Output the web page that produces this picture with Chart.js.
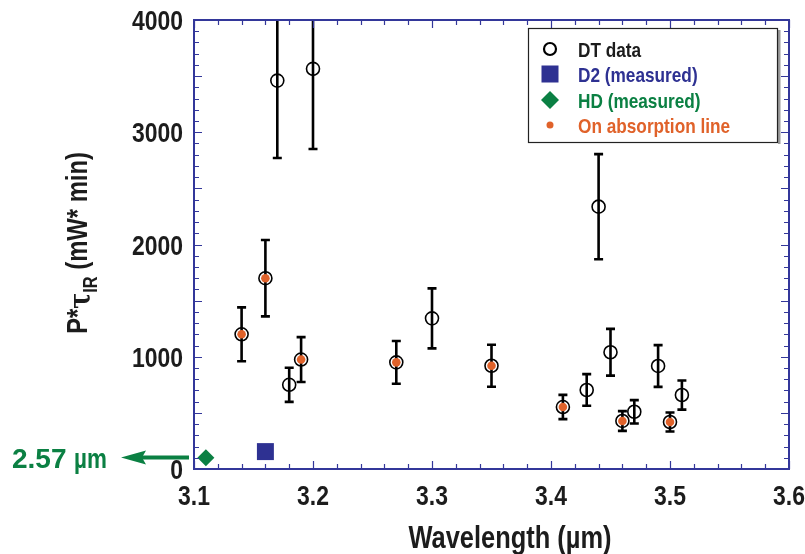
<!DOCTYPE html>
<html>
<head>
<meta charset="utf-8">
<script src="https://cdn.jsdelivr.net/npm/chart.js@4/dist/chart.umd.min.js"></script>
<style>
html,body{margin:0;padding:0;background:#fff;}
#wrap{width:805px;height:554px;position:relative;}
</style>
</head>
<body>
<div id="wrap"><canvas id="c" width="805" height="554"></canvas></div>
<script>
// ---- data ----
const dtWavelength = [3.14, 3.16, 3.17, 3.18, 3.19, 3.20, 3.27, 3.30, 3.35, 3.41, 3.43, 3.44, 3.45, 3.46, 3.47, 3.49, 3.50, 3.51];
const dtValue      = [1200, 1700, 3460, 750, 975, 3565, 950, 1342, 920, 552, 704, 2337, 1040, 428, 510, 918, 419, 659];
const dtError      = [240, 340, 690, 152, 200, 714, 190, 267, 187, 108, 141, 468, 208, 88, 104, 186, 85, 130];
const onAbsorptionLine = [1, 1, 0, 0, 1, 0, 1, 0, 1, 1, 0, 0, 0, 1, 0, 0, 1, 0];
const d2Wavelength = [3.16];
const d2Value      = [155];
const hdWavelength = [3.11];
const hdValue      = [100];
const hdNoteNumber = '2.57';
const hdNoteUnit = '\u00b5m';
const xTicks = [3.1, 3.2, 3.3, 3.4, 3.5, 3.6];
const yTicks = [0, 1000, 2000, 3000, 4000];
const seriesLabels = ['DT data', 'D2 (measured)', 'HD (measured)', 'On absorption line'];

const FONT = '"Liberation Sans", Arial, sans-serif';
const NARROW = 0.82;
const AXIS_BLUE = '#33379a';
const BLUE = '#2e3192';
const GREEN = '#0b8043';
const ORANGE = '#e0622a';
const INK = '#1c1c1c';

const dtPoints = dtWavelength.map((x, i) => ({x, y: dtValue[i]}));
const absPoints = dtWavelength.map((x, i) => ({x, y: dtValue[i]})).filter((p, i) => onAbsorptionLine[i]);
const d2Points = d2Wavelength.map((x, i) => ({x, y: d2Value[i]}));
const hdPoints = hdWavelength.map((x, i) => ({x, y: hdValue[i]}));

const legendStyles = [
  {type: 'circle', color: '#000'},
  {type: 'square', color: BLUE},
  {type: 'diamond', color: GREEN},
  {type: 'dot', color: ORANGE}
];

function narrowText(ctx, text, x, y, px, color, align, baseline, sx) {
  ctx.save();
  ctx.font = 'bold ' + px + 'px ' + FONT;
  ctx.fillStyle = color;
  ctx.textAlign = align;
  ctx.textBaseline = baseline;
  ctx.translate(x, y);
  ctx.scale(sx || NARROW, 1);
  ctx.fillText(text, 0, 0);
  ctx.restore();
}

const errorBarPlugin = {
  id: 'errorBars',
  beforeDatasetsDraw(chart) {
    const {ctx, chartArea, scales: {x, y}} = chart;
    ctx.save();
    ctx.beginPath();
    ctx.rect(chartArea.left, chartArea.top - 1, chartArea.right - chartArea.left, chartArea.bottom - chartArea.top + 1);
    ctx.clip();
    ctx.strokeStyle = '#000';
    ctx.lineWidth = 2.6;
    dtWavelength.forEach((w, i) => {
      const px = x.getPixelForValue(w);
      const top = y.getPixelForValue(dtValue[i] + dtError[i]);
      const bot = y.getPixelForValue(dtValue[i] - dtError[i]);
      ctx.beginPath();
      ctx.moveTo(px, top); ctx.lineTo(px, bot);
      ctx.moveTo(px - 4.5, top); ctx.lineTo(px + 4.5, top);
      ctx.moveTo(px - 4.5, bot); ctx.lineTo(px + 4.5, bot);
      ctx.stroke();
    });
    ctx.restore();
  }
};

const framePlugin = {
  id: 'frame',
  afterDatasetsDraw(chart) {
    const {ctx, chartArea: a, scales: {x, y}} = chart;
    ctx.save();
    ctx.strokeStyle = AXIS_BLUE;
    ctx.lineWidth = 1.2;
    for (let k = 0; k <= 25; k++) {
      const v = 3.1 + k * 0.02;
      const px = Math.round(x.getPixelForValue(v)) + 0.5;
      const len = (k % 5 === 0) ? 8 : 5;
      ctx.beginPath();
      ctx.moveTo(px, a.bottom); ctx.lineTo(px, a.bottom - len);
      ctx.moveTo(px, a.top); ctx.lineTo(px, a.top + len);
      ctx.stroke();
    }
    for (let k = 0; k <= 40; k++) {
      const v = k * 100;
      const py = Math.round(y.getPixelForValue(v)) + 0.5;
      const len = (k % 5 === 0) ? 8 : 5;
      ctx.beginPath();
      ctx.moveTo(a.left, py); ctx.lineTo(a.left + len, py);
      ctx.moveTo(a.right, py); ctx.lineTo(a.right - len, py);
      ctx.stroke();
    }
    ctx.lineWidth = 2;
    ctx.strokeRect(a.left, a.top, a.right - a.left, a.bottom - a.top);
    ctx.restore();
  },
  afterDraw(chart) {
    const {ctx, chartArea: a, scales: {x, y}} = chart;

    // tick labels (from the scales' ticks)
    x.ticks.forEach(t => {
      narrowText(ctx, Number(t.value).toFixed(1), x.getPixelForValue(t.value), a.bottom + 36, 28, INK, 'center', 'alphabetic');
    });
    y.ticks.forEach(t => {
      narrowText(ctx, String(t.value), a.left - 11, y.getPixelForValue(t.value) + 10, 28, INK, 'right', 'alphabetic');
    });

    ctx.save();
    // legend box
    const L = 528, T = 28, R = 777, B = 142;
    ctx.fillStyle = '#fff';
    ctx.fillRect(L, T, R - L, B - T);
    ctx.fillStyle = '#9a9a9a';
    ctx.fillRect(R + 1, T + 2, 2.5, B - T);
    ctx.strokeStyle = '#222';
    ctx.lineWidth = 1.2;
    ctx.strokeRect(L + 0.5, T + 0.5, R - L, B - T);
    const rowY = [49, 74, 100, 125];
    const textColors = [INK, BLUE, GREEN, ORANGE];
    chart.data.datasets.forEach((ds, i) => {
      const st = legendStyles[i];
      const cy = rowY[i], cx = 550;
      ctx.beginPath();
      if (st.type === 'circle') {
        ctx.arc(cx, cy, 6, 0, Math.PI * 2);
        ctx.strokeStyle = '#000'; ctx.lineWidth = 2.2; ctx.stroke();
      } else if (st.type === 'square') {
        ctx.fillStyle = st.color; ctx.fillRect(cx - 8.5, cy - 8.5, 17, 17);
      } else if (st.type === 'diamond') {
        ctx.moveTo(cx - 9, cy); ctx.lineTo(cx, cy - 9); ctx.lineTo(cx + 9, cy); ctx.lineTo(cx, cy + 9); ctx.closePath();
        ctx.fillStyle = st.color; ctx.fill();
      } else {
        ctx.arc(cx, cy, 3.5, 0, Math.PI * 2);
        ctx.fillStyle = st.color; ctx.fill();
      }
      narrowText(ctx, ds.label, 578, cy + 7.5, 21, textColors[i], 'left', 'alphabetic');
    });

    // HD arrow annotation
    const ay = Math.round(y.getPixelForValue(hdValue[0])) - 0.5;
    ctx.strokeStyle = GREEN; ctx.fillStyle = GREEN;
    ctx.lineWidth = 4;
    ctx.beginPath();
    ctx.moveTo(a.left - 5, ay); ctx.lineTo(138, ay);
    ctx.stroke();
    ctx.beginPath();
    ctx.moveTo(121, ay); ctx.lineTo(146, ay - 7); ctx.lineTo(142, ay); ctx.lineTo(146, ay + 7); ctx.closePath();
    ctx.fill();
    ctx.restore();
    narrowText(ctx, hdNoteNumber, 12, ay + 10, 28, GREEN, 'left', 'alphabetic', 1);
    narrowText(ctx, hdNoteUnit, 74, ay + 10, 28, GREEN, 'left', 'alphabetic', 0.8);

    // y title with subscript
    ctx.save();
    ctx.fillStyle = INK;
    ctx.translate(87, 243);
    ctx.rotate(-Math.PI / 2);
    ctx.scale(NARROW, 1);
    const parts = [
      {t: 'P*', f: 'bold 29px ' + FONT, dy: 0},
      {t: '\u03c4', f: 'bold 29px "DejaVu Serif", serif', dy: 3},
      {t: 'IR', f: 'bold 20px ' + FONT, dy: 10},
      {t: ' (mW* min)', f: 'bold 29px ' + FONT, dy: 0}
    ];
    let total = 0;
    parts.forEach(p => { ctx.font = p.f; p.w = ctx.measureText(p.t).width; total += p.w; });
    let cx0 = -total / 2;
    ctx.textBaseline = 'alphabetic';
    ctx.textAlign = 'left';
    parts.forEach(p => { ctx.font = p.f; ctx.fillText(p.t, cx0, p.dy); cx0 += p.w; });
    ctx.restore();

    // x title
    narrowText(ctx, 'Wavelength (\u00b5m)', 510, 548, 31, INK, 'center', 'alphabetic');
  }
};

new Chart(document.getElementById('c'), {
  type: 'scatter',
  data: {
    datasets: [
      {label: seriesLabels[0], data: dtPoints, pointStyle: 'circle', pointRadius: 6.5, pointBorderWidth: 1.6,
       borderColor: '#000', backgroundColor: 'rgba(0,0,0,0)', order: 2},
      {label: seriesLabels[1], data: d2Points, pointStyle: 'rect', pointRadius: 12, pointBorderWidth: 0,
       borderColor: BLUE, backgroundColor: BLUE, order: 1},
      {label: seriesLabels[2], data: hdPoints, pointStyle: 'rectRot', pointRadius: 8.5, pointBorderWidth: 0,
       borderColor: GREEN, backgroundColor: GREEN, order: 1},
      {label: seriesLabels[3], data: absPoints, pointStyle: 'circle', pointRadius: 4.3, pointBorderWidth: 0,
       borderColor: ORANGE, backgroundColor: ORANGE, order: 0}
    ]
  },
  options: {
    responsive: false,
    animation: false,
    layout: {padding: {top: 20, right: 16, left: 0, bottom: 0}},
    plugins: {legend: {display: false}, tooltip: {enabled: false}},
    scales: {
      x: {
        type: 'linear', min: 3.1, max: 3.6,
        afterBuildTicks: s => { s.ticks = xTicks.map(v => ({value: v})); },
        afterFit: s => { s.height = 85; s.paddingLeft = 0; s.paddingRight = 0; },
        grid: {display: false},
        border: {display: false},
        ticks: {display: false}
      },
      y: {
        type: 'linear', min: 0, max: 4000,
        afterBuildTicks: s => { s.ticks = yTicks.map(v => ({value: v})); },
        afterFit: s => { s.width = 194; s.paddingTop = 0; s.paddingBottom = 0; },
        grid: {display: false},
        border: {display: false},
        ticks: {display: false}
      }
    }
  },
  plugins: [errorBarPlugin, framePlugin]
});
</script>
</body>
</html>
